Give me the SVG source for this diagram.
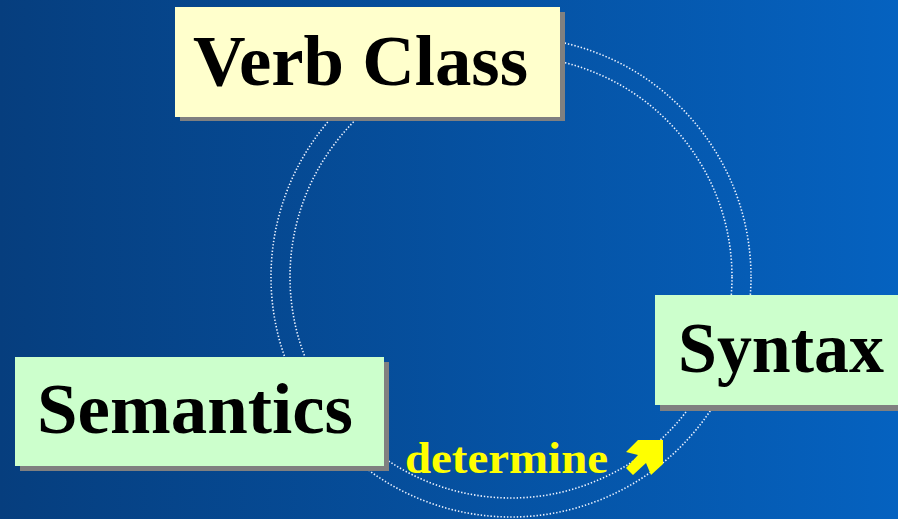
<svg xmlns="http://www.w3.org/2000/svg" width="898" height="519" viewBox="0 0 898 519">
  <defs>
    <linearGradient id="bg" x1="0" y1="0" x2="1" y2="0">
      <stop offset="0" stop-color="#063e7e"/>
      <stop offset="1" stop-color="#0562c0"/>
    </linearGradient>
  </defs>
  <style>
    .ring { fill: none; stroke: #eef3ff; stroke-width: 1.6; stroke-dasharray: 1.4 1.9; }
    .shadow { fill: #808080; }
    .label { font-family: "Liberation Serif", "Times New Roman", serif; font-weight: bold; font-size: 72px; fill: #000000; }
    .yellow { fill: #FFFFCC; }
    .green { fill: #CCFFCC; }
    .det { font-family: "Liberation Serif", "Times New Roman", serif; font-weight: bold; font-size: 45px; fill: #FFFF00; }
  </style>
  <rect x="0" y="0" width="898" height="519" fill="url(#bg)"/>
  <g id="connectors">
    <circle class="ring" cx="511" cy="277" r="240"/>
    <circle class="ring" cx="511" cy="277" r="221"/>
  </g>
  <g id="verb-class">
    <rect class="shadow" x="180" y="12" width="385" height="109"/>
    <rect class="yellow" x="175" y="7" width="385" height="110"/>
    <text class="label" x="193" y="85" textLength="335" lengthAdjust="spacingAndGlyphs">Verb Class</text>
  </g>
  <g id="syntax">
    <rect class="shadow" x="660" y="300" width="250" height="111"/>
    <rect class="green" x="655" y="295" width="250" height="110"/>
    <text class="label" x="678" y="372" textLength="206" lengthAdjust="spacingAndGlyphs">Syntax</text>
  </g>
  <g id="semantics">
    <rect class="shadow" x="20" y="362" width="369" height="109"/>
    <rect class="green" x="15" y="357" width="369" height="109"/>
    <text class="label" x="37" y="433" textLength="316" lengthAdjust="spacingAndGlyphs">Semantics</text>
  </g>
  <g id="determine">
    <text class="det" x="405" y="473" textLength="203" lengthAdjust="spacingAndGlyphs">determine</text>
    <polygon fill="#FFFF00" points="638,440 663,440 663,464 651,475 646,463 633,475 626,468 638,455 626,452"/>
  </g>
</svg>
